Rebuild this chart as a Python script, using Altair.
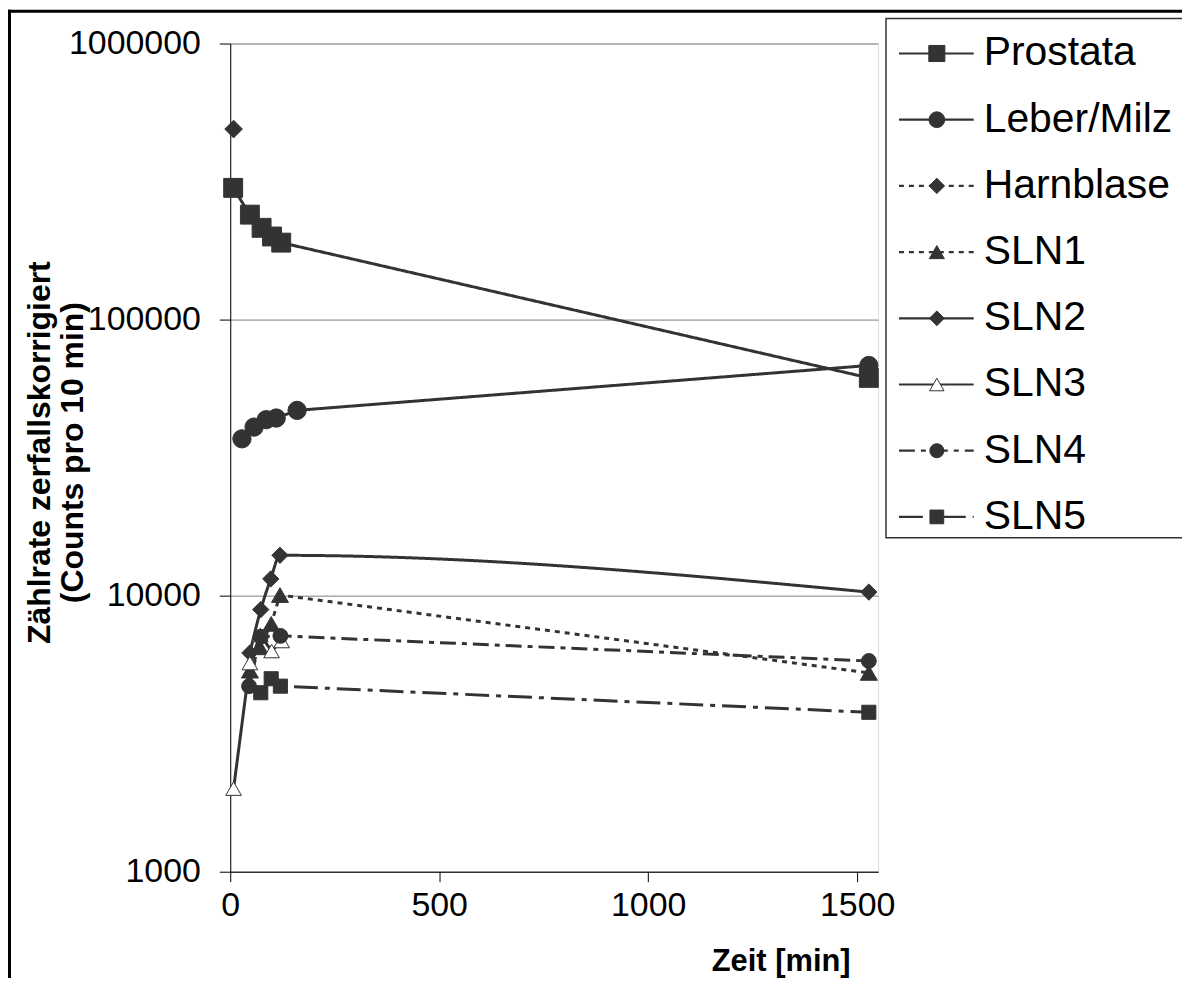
import altair as alt
import pandas as pd

series_names = ["Prostata", "Leber/Milz", "Harnblase", "SLN1", "SLN2", "SLN3", "SLN4", "SLN5"]

prostata_t = [7, 47, 75, 100, 122, 1528]
prostata_v = [300000, 240000, 215000, 200000, 190000, 61500]
leber_t = [28, 57, 86, 110, 160, 1528]
leber_v = [37000, 40800, 43400, 44000, 46900, 68200]
harnblase_t = [8]
harnblase_v = [490000]
sln1_t = [47, 71, 98, 119, 1528]
sln1_v = [5350, 6500, 7900, 10050, 5250]
sln2_t = [47, 73, 97, 119, 1528]
sln2_v = [6200, 8900, 11500, 14000, 10300]
sln3_t = [8, 47, 72, 99, 123]
sln3_v = [2000, 5700, 7200, 6300, 6850]
sln4_t = [45, 73, 120, 1528]
sln4_v = [4700, 7100, 7150, 5800]
sln5_t = [73, 98, 120, 1528]
sln5_v = [4450, 5000, 4700, 3780]

x_ticks = [0, 500, 1000, 1500]
y_ticks = [1000, 10000, 100000, 1000000]

series_data = {
    "Prostata": (prostata_t, prostata_v),
    "Leber/Milz": (leber_t, leber_v),
    "Harnblase": (harnblase_t, harnblase_v),
    "SLN1": (sln1_t, sln1_v),
    "SLN2": (sln2_t, sln2_v),
    "SLN3": (sln3_t, sln3_v),
    "SLN4": (sln4_t, sln4_v),
    "SLN5": (sln5_t, sln5_v),
}

rows = []
for name in series_names:
    ts, vs = series_data[name]
    for t, v in zip(ts, vs):
        rows.append({"series": name, "t": t, "v": v})
df = pd.DataFrame(rows)
legend_df = pd.DataFrame({"lseries": series_names})
one = pd.DataFrame({"k": [0]})

DARK = "#333333"
FONT = "Liberation Sans"
W, H = 650, 831

shapes = ["square", "circle", "diamond", "triangle-up", "diamond", "triangle-up", "circle", "square"]
dashes = [[1, 0], [1, 0], [5, 5], [5, 5], [1, 0], [1, 0], [16, 6, 5, 6], [24, 7, 5, 7]]
widths = [3, 3, 3, 3, 3, 1.2, 3, 3]
leg_widths = [2.2, 2.2, 2.2, 2.2, 2.2, 1, 2.2, 2.2]
fills = [DARK, DARK, DARK, DARK, DARK, "white", DARK, DARK]
sizes = [360, 200, 240, 200, 200, 250, 200, 250]
leg_sizes = [260, 190, 230, 230, 230, 260, 190, 220]


def enc_set(field):
    return dict(
        shape=alt.Shape(field, scale=alt.Scale(domain=series_names, range=shapes), legend=None),
        strokeDash=alt.StrokeDash(field, scale=alt.Scale(domain=series_names, range=dashes), legend=None),
        fill=alt.Fill(field, scale=alt.Scale(domain=series_names, range=fills), legend=None),
    )


m = enc_set("series:N")
lg = enc_set("lseries:N")

x_enc = alt.X(
    "t:Q",
    scale=alt.Scale(domain=[0, 1550], nice=False, zero=False),
    axis=alt.Axis(
        values=x_ticks, format="d", grid=False, tickSize=10, tickColor="black", domainColor="black",
        labelFontSize=34, labelFont=FONT, labelColor="black", labelPadding=7,
        labelFlush=False, labelOverlap=False,
        title="Zeit [min]", titleFont=FONT, titleFontSize=31, titleFontWeight="bold",
        titleColor="black", titleX=622, titleY=90, titleAlign="right", titleBaseline="middle",
    ),
)
y_enc = alt.Y(
    "v:Q",
    scale=alt.Scale(type="log", domain=[1000, 1000000], nice=False),
    axis=alt.Axis(
        values=y_ticks, format="d", grid=True, gridColor="#808080", gridWidth=1,
        tickSize=11, tickColor="black", domainColor="black",
        labelFontSize=34, labelFont=FONT, labelColor="black", labelPadding=19,
        labelFlush=False, labelOverlap=False,
        title=["Zählrate zerfallskorrigiert", "(Counts pro 10 min)"],
        titleFont=FONT, titleFontSize=32, titleFontWeight="bold", titleColor="black",
        titleAngle=270, titleX=-206, titleY=410, titleAlign="center", titleBaseline="top",
        titleLineHeight=33,
    ),
)

base = alt.Chart(df)
width_enc = alt.StrokeWidth("series:N", scale=alt.Scale(domain=series_names, range=widths), legend=None)
lines = base.transform_filter(alt.datum.series != "SLN2").mark_line(color=DARK).encode(
    x=x_enc, y=y_enc, detail="series:N", strokeDash=m["strokeDash"], strokeWidth=width_enc
)
sln2_line = base.transform_filter(alt.datum.series == "SLN2").mark_line(
    color=DARK, interpolate="monotone"
).encode(x=x_enc, y=y_enc, strokeDash=m["strokeDash"], strokeWidth=width_enc)
points = base.mark_point(stroke=DARK, strokeWidth=1, opacity=1, filled=False).encode(
    x=x_enc, y=y_enc, shape=m["shape"], fill=m["fill"],
    size=alt.Size("series:N", scale=alt.Scale(domain=series_names, range=sizes), legend=None),
)
main = alt.layer(lines, sln2_line, points)

leg_y = alt.Y("lseries:N", scale=alt.Scale(type="point", domain=series_names, range=[10, 475], padding=0), axis=None)
leg_box = alt.Chart(one).mark_rect(fill="white", stroke=DARK, strokeWidth=1.5).encode(
    x=alt.value(658), x2=alt.value(956), y=alt.value(-25), y2=alt.value(496)
)
leg_lines = alt.Chart(legend_df).mark_rule(color=DARK).encode(
    x=alt.value(671), x2=alt.value(746), y=leg_y, strokeDash=lg["strokeDash"],
    strokeWidth=alt.StrokeWidth("lseries:N", scale=alt.Scale(domain=series_names, range=leg_widths), legend=None),
)
leg_pts = alt.Chart(legend_df).mark_point(stroke=DARK, strokeWidth=1, opacity=1, filled=False).encode(
    x=alt.value(709), y=leg_y, shape=lg["shape"], fill=lg["fill"],
    size=alt.Size("lseries:N", scale=alt.Scale(domain=series_names, range=leg_sizes), legend=None),
)
leg_text = alt.Chart(legend_df).mark_text(
    align="left", baseline="middle", font=FONT, fontSize=41, color="black"
).encode(x=alt.value(756), y=leg_y, text="lseries:N")
frame_left = alt.Chart(one).mark_rule(color="black", strokeWidth=3).encode(
    x=alt.value(-221.5), y=alt.value(-34), y2=alt.value(H + 110)
)
frame_top = alt.Chart(one).mark_rule(color="black", strokeWidth=3).encode(
    x=alt.value(-223), x2=alt.value(960), y=alt.value(-32.5)
)
legend = alt.layer(frame_left, frame_top, leg_box, leg_lines, leg_pts, leg_text)

chart = alt.layer(main, legend).resolve_scale(
    y="independent", size="independent", strokeWidth="independent"
).properties(
    width=W, height=H,
    padding={"left": 223, "top": 34, "right": 305, "bottom": 105},
    autosize=alt.AutoSizeParams(type="none"),
).configure_view(stroke="#808080", strokeWidth=1).configure(background="white")

chart.save("out.html", embed_options={"renderer": "svg", "actions": False})
